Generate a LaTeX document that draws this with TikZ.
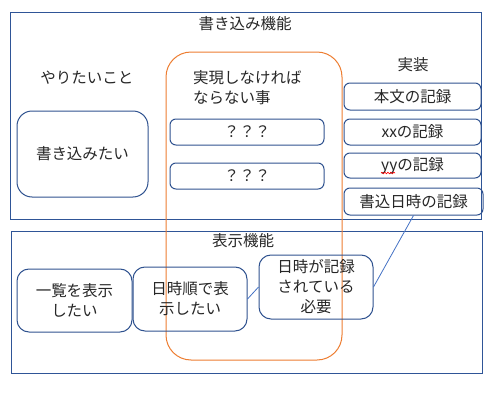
\documentclass[tikz,border=0pt]{standalone}
\usepackage{fontspec}
\setmainfont{Noto Sans CJK JP}
\usetikzlibrary{decorations.pathmorphing}
\definecolor{frameblue}{HTML}{2F5597}
\definecolor{boxblue}{HTML}{2F528F}
\definecolor{lineblue}{HTML}{4472C4}
\definecolor{mustorange}{HTML}{ED7D31}
\definecolor{textgray}{HTML}{262626}

\begin{document}
\begin{tikzpicture}[x=1pt,y=-1pt,
		every node/.style={text=textgray,font=\fontsize{15.5}{20}\selectfont,inner sep=0pt},
		item/.style={draw=boxblue,line width=1pt,rounded corners=#1,align=center},
		item/.default=6pt,
		frame/.style={draw=frameblue,line width=1pt},
		link/.style={draw=lineblue,line width=.8pt}]
		\def\rightx{412.5}
		\def\rightwidth{137}
		\def\mustx{247}
		\def\mustwidth{154}
		
		\useasboundingbox (0,0) rectangle (491,407);
		
		\draw[frame] (10,12) rectangle (481,219);
		\draw[frame] (11,231) rectangle (482,373);
		\draw[draw=mustorange,line width=1pt,rounded corners=25pt] (166,52) rectangle (342,360);
		
		\node (writetitle) at (245,24) {書き込み機能};
		\node (wanttitle) at (87,78) {やりたいこと};
		\node[anchor=west,align=left] (musttitle) at (193,88) {実現しなければ\\ならない事};
		\node (impltitle) at (413,65) {実装};
		\node (showtitle) at (243,241) {表示機能};
		
		\node[item=15pt,minimum width=131pt,minimum height=86pt] (want) at (82.5,154) {書き込みたい};
		
		\node[item,minimum width=\mustwidth pt,minimum height=26pt] (must1) at (\mustx,132) {？？？};
		\node[item,minimum width=\mustwidth pt,minimum height=26pt] (must2) at (\mustx,176) {？？？};
		
		\node[item,minimum width=\rightwidth pt,minimum height=27pt] (rec1) at (\rightx,96.5) {本文の記録};
		\node[item,minimum width=\rightwidth pt,minimum height=26pt] (rec2) at (\rightx,132) {xxの記録};
		\node[item,minimum width=\rightwidth pt,minimum height=25pt] (rec3) at (\rightx,165.5) {yyの記録};
		\node[item,minimum width=139pt,minimum height=27pt] (rec4) at (413.5,201.5) {書込日時の記録};
		\draw[red,line width=.6pt,decorate,decoration={snake,amplitude=.8pt,segment length=3pt}] (381,173) -- (395,173);
		
		\node[item=12pt,minimum width=115pt,minimum height=63pt] (list) at (74.5,300.5) {一覧を表示\\したい};
		\node[item=12pt,minimum width=114pt,minimum height=64pt] (order) at (190,299) {日時順で表\\示したい};
		\node[item=12pt,minimum width=114pt,minimum height=64pt] (need) at (316,287) {日時が記録\\されている\\必要};
		
		\draw[link] (list) -- (order);
		\draw[link] (order.east) -- (need.west);
		\draw[link] (need.east) -- (rec4.south);
	\end{tikzpicture}
\end{document}
